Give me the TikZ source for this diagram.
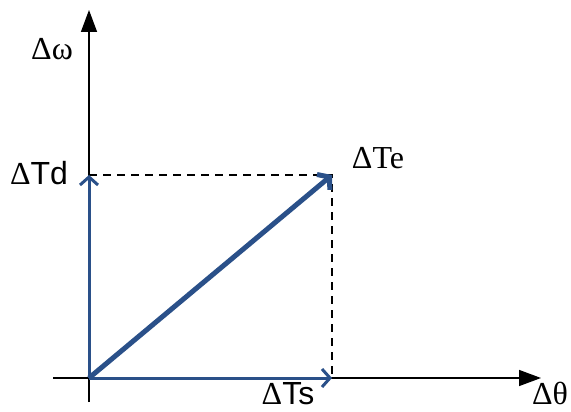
\documentclass[tikz,border=0pt]{standalone}
\usepackage{fontspec}
\setmainfont{Liberation Serif}
\newfontfamily\sansf{Liberation Sans}
\usetikzlibrary{arrows.meta}
\definecolor{vblue}{HTML}{2A5089}
\begin{document}
\begin{tikzpicture}[x=1pt,y=-1pt,
  axis/.style={black,line width=1.5pt,-{Triangle[length=22pt,width=16pt]}},
  vec/.style={vblue,line width=3pt,-{Straight Barb[length=8pt,width=18pt,line width=3pt]}},
  bigvec/.style={vblue,line width=5pt,-{Straight Barb[length=8pt,width=20pt,line width=5pt]}},
  guide/.style={black,line width=1.2pt,dash pattern=on 8pt off 6pt},
  lbl/.style={font=\fontsize{32}{36}\selectfont,inner sep=0pt}]
\useasboundingbox (0,0) rectangle (571,412);
\coordinate (O) at (89,378);
\coordinate (xl) at (53,378);
\coordinate (xr) at (541,378);
\coordinate (yb) at (89,402);
\coordinate (yt) at (89,10);
\coordinate (Td) at (89,175);
\coordinate (Ts) at (332,378);
\coordinate (Te) at (332,175);
\draw[axis] (xl) -- (xr);
\draw[axis] (yb) -- (yt);
\draw[guide] (Td) -- (Te) -- (Ts);
\draw[vec] (O) -- (Td);
\draw[vec] (O) -- (Ts);
\draw[bigvec] (O) -- (Te);
\node[lbl,anchor=base] (lw) at (52,60) {Δω};
\node[lbl,anchor=base] (ltd) at (39,184) {Δ{\sansf Td}};
\node[lbl,anchor=base] (lte) at (378,168) {ΔTe};
\node[lbl,anchor=base] (lts) at (288,404) {Δ{\sansf Ts}};
\node[lbl,anchor=base] (lth) at (550,404) {Δθ};
\end{tikzpicture}
\end{document}
